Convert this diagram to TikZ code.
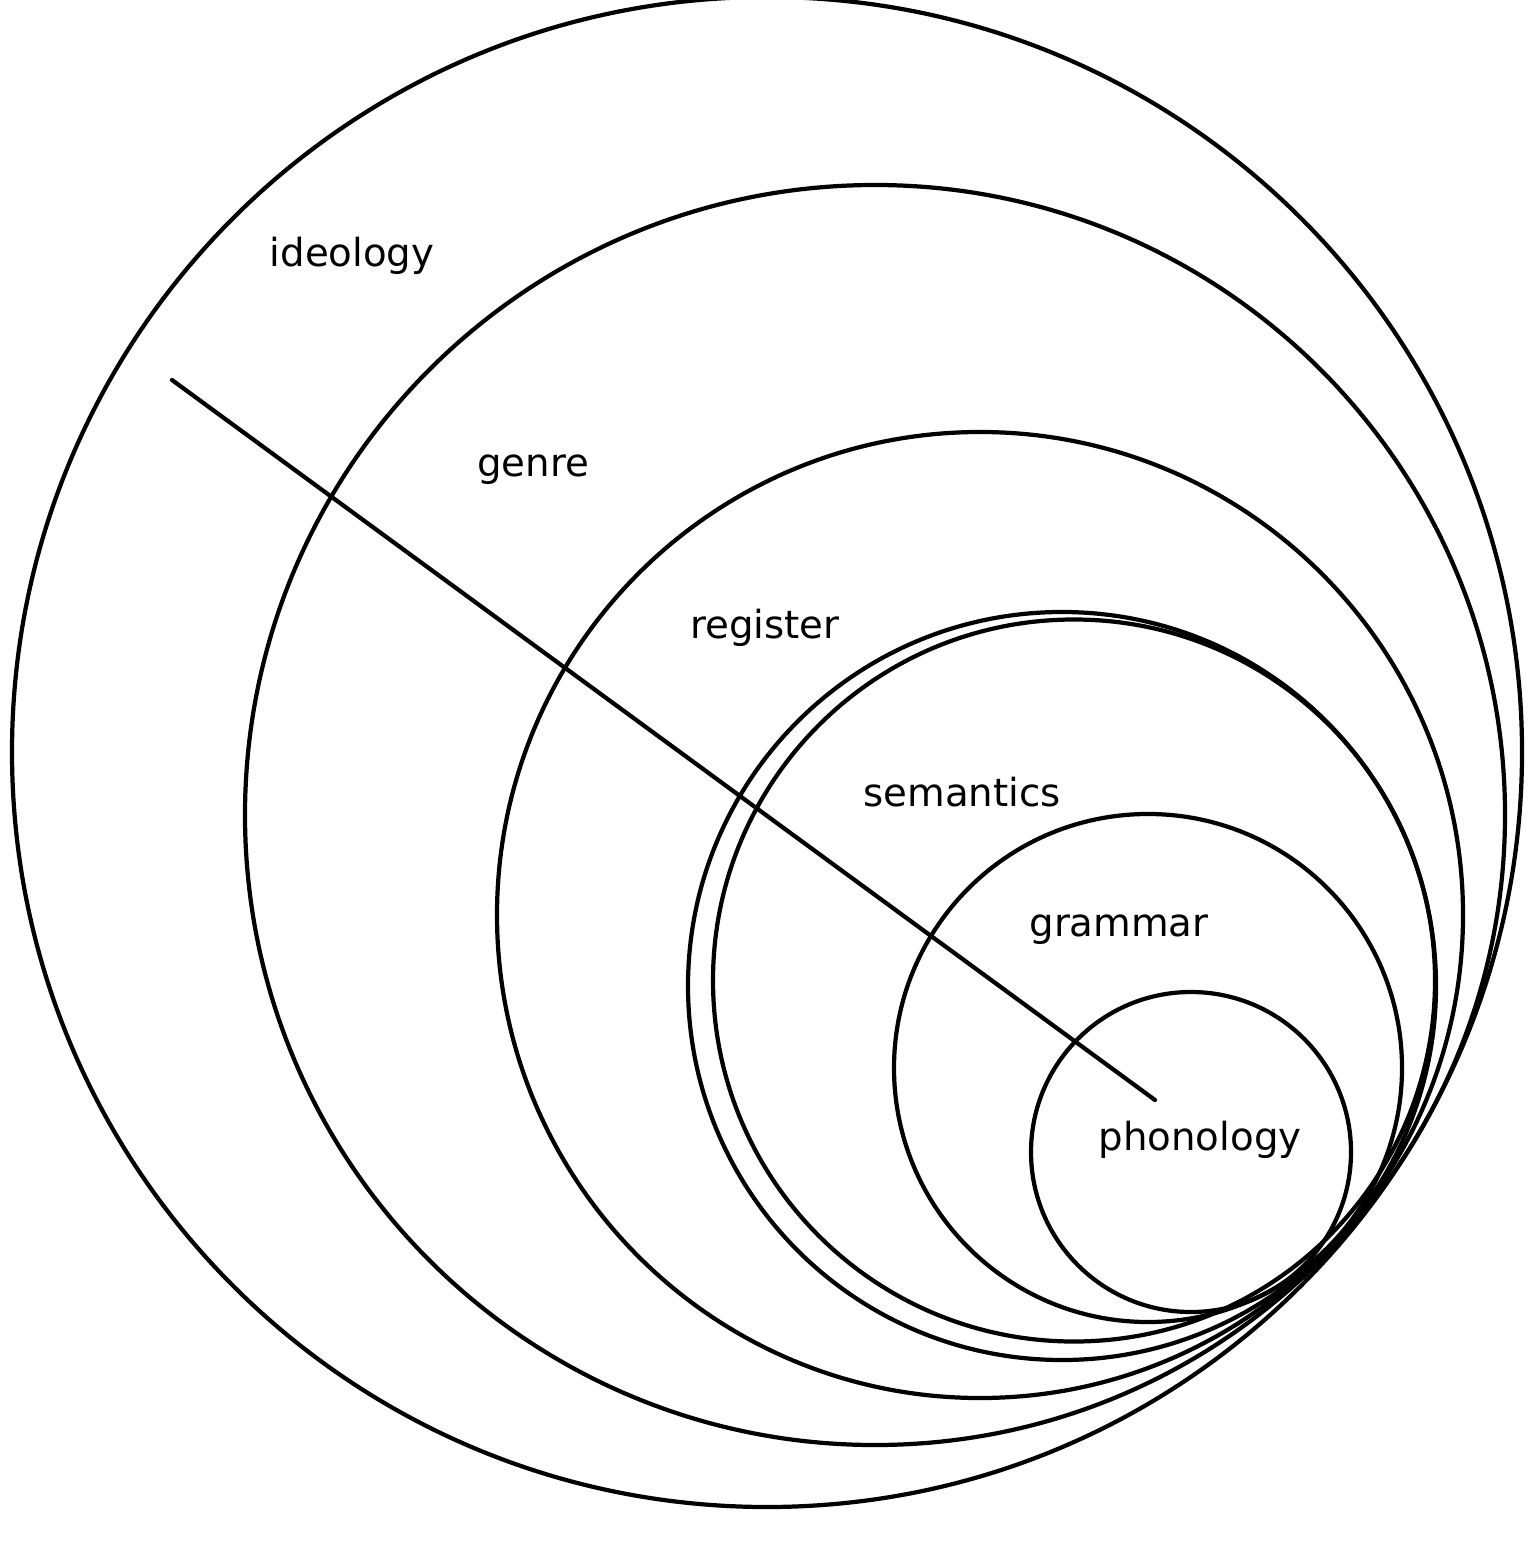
\documentclass[tikz,border=0pt]{standalone}
\usepackage{fontspec}
\setmainfont{DejaVu Sans}
\usetikzlibrary{positioning}

\tikzset{
  ring/.style={draw, line width=1.2pt},
  level/.style={font=\fontsize{11}{13}\selectfont, inner sep=0pt}
}

\begin{document}
\begin{tikzpicture}[x=0.01cm, y=-0.01cm]
		\useasboundingbox (0,0) rectangle (1530,1552);

		\coordinate (cideo) at (767,752);
		\coordinate (cgenre) at (875,815);
		\coordinate (creg) at (980,915);
		\coordinate (csemA) at (1062,986);
		\coordinate (csemB) at (1074,980.5);
		\coordinate (cgram) at (1148,1068);
		\coordinate (cphon) at (1191,1152);

		\draw[ring] (cideo) circle (755);
		\draw[ring] (cgenre) circle (630);
		\draw[ring] (creg) circle (483);
		\draw[ring] (csemA) circle (374);
		\draw[ring] (csemB) circle (361);
		\draw[ring] (cgram) circle (254);
		\draw[ring] (cphon) circle (160);

		\coordinate (lstart) at (172,380);
		\coordinate (lend) at (1155,1100);
		\draw[line width=1.2pt, line cap=round] (lstart) -- (lend);

		\node[level] (ideology) at (352,256) {ideology};
		\node[level] (genre) at (533,470) {genre};
		\node[level] (register) at (765,628) {register};
		\node[level] (semantics) at (962,792) {semantics};
		\node[level] (grammar) at (1119,930) {grammar};
		\node[level] (phonology) at (1200,1140) {phonology};
	\end{tikzpicture}
\end{document}
